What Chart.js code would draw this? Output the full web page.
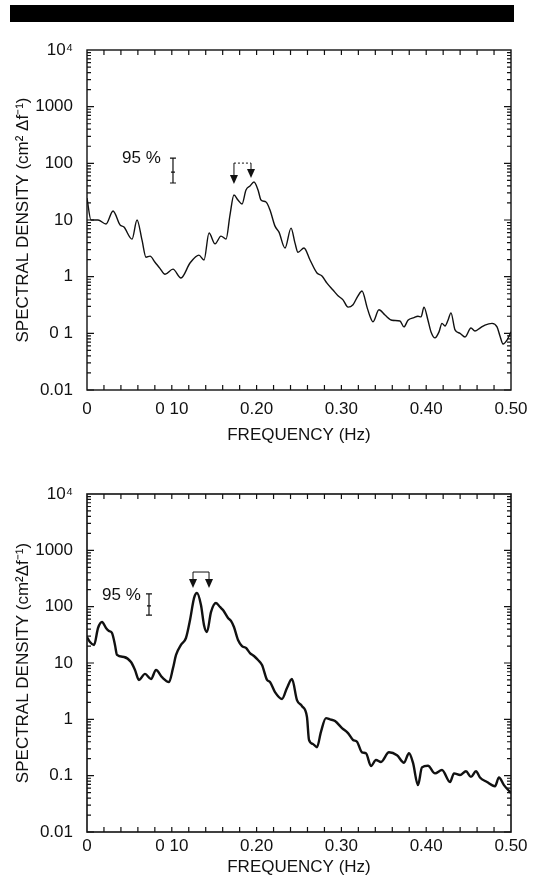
<!DOCTYPE html>
<html>
<head>
<meta charset="utf-8">
<script src="https://cdn.jsdelivr.net/npm/chart.js@4.4.1/dist/chart.umd.min.js"></script>
<style>
  body { margin: 0; background: #fff; }
  #page { position: relative; width: 544px; height: 878px; overflow: hidden; }
  #bar { position: absolute; left: 10px; top: 5px; width: 504px; height: 17px; background: #000; }
  canvas { position: absolute; left: 0; }
</style>
</head>
<body>
<div id="page">
  <div id="bar"></div>
  <canvas id="topChart" width="544" height="460" style="top:0"></canvas>
  <canvas id="bottomChart" width="544" height="418" style="top:460px"></canvas>
</div>
<script>
// upper spectrum
const topFreq = [0, 0.0047, 0.013, 0.0224, 0.0307, 0.0389, 0.0436, 0.0531, 0.059, 0.0649,
  0.0696, 0.0743, 0.0802, 0.086, 0.092, 0.1014, 0.1108, 0.1215, 0.132, 0.138,
  0.1439, 0.151, 0.158, 0.164, 0.1686, 0.1733, 0.178, 0.1828, 0.1875, 0.1922,
  0.1969, 0.2017, 0.2052, 0.2111, 0.2158, 0.2217, 0.2264, 0.2335, 0.2406, 0.2453,
  0.2488, 0.2559, 0.263, 0.2712, 0.2771, 0.283, 0.2901, 0.296, 0.3019, 0.3078,
  0.3137, 0.3196, 0.3243, 0.3302, 0.3337, 0.3373, 0.3443, 0.3514, 0.3597, 0.3691,
  0.3738, 0.3785, 0.3856, 0.3903, 0.3939, 0.3974, 0.4021, 0.4057, 0.4104, 0.4151,
  0.4186, 0.4222, 0.4257, 0.4292, 0.434, 0.4399, 0.4458, 0.4528, 0.4575, 0.4634,
  0.4693, 0.4776, 0.4835, 0.487, 0.4906, 0.4953, 0.5];
const topDensity = [24.4, 10, 10, 8.5, 14.4, 8.2, 7.5, 4.6, 10, 4.4,
  2.2, 2.3, 1.8, 1.4, 1.1, 1.36, 0.95, 1.74, 2.4, 1.97,
  5.9, 3.8, 5.2, 4.6, 12.2, 27.6, 22.5, 19.2, 33.9, 39.8,
  46.9, 33.9, 22.5, 20.8, 15, 7.8, 6.1, 3.2, 7.2, 3.9,
  2.7, 3.2, 1.97, 1.16, 1.03, 0.77, 0.58, 0.46, 0.39, 0.29,
  0.32, 0.46, 0.56, 0.29, 0.2, 0.16, 0.26, 0.21, 0.17, 0.165,
  0.13, 0.17, 0.19, 0.2, 0.195, 0.29, 0.17, 0.106, 0.083, 0.106,
  0.15, 0.135, 0.17, 0.23, 0.115, 0.1, 0.086, 0.124, 0.11, 0.124,
  0.14, 0.15, 0.13, 0.09, 0.065, 0.076, 0.106];

// lower spectrum
const bottomFreq = [0, 0.0035, 0.0083, 0.013, 0.0177, 0.0224, 0.0259, 0.0295, 0.033, 0.0354,
  0.0436, 0.0519, 0.0566, 0.0613, 0.0684, 0.0755, 0.0814, 0.0884, 0.0967, 0.1014,
  0.105, 0.1108, 0.1167, 0.1215, 0.1262, 0.1297, 0.1344, 0.138, 0.1415, 0.1462,
  0.1521, 0.1568, 0.1604, 0.1663, 0.1698, 0.1733, 0.1781, 0.1828, 0.1875, 0.1922,
  0.1969, 0.2017, 0.2064, 0.2123, 0.2158, 0.2217, 0.23, 0.2358, 0.2417, 0.2476,
  0.2535, 0.2594, 0.2618, 0.2665, 0.2712, 0.2759, 0.2818, 0.2866, 0.2925, 0.3007,
  0.3078, 0.3137, 0.3184, 0.3243, 0.329, 0.3349, 0.3408, 0.3467, 0.3561, 0.3656,
  0.3738, 0.3797, 0.3844, 0.3903, 0.395, 0.4021, 0.4104, 0.4186, 0.4281, 0.4328,
  0.4399, 0.4469, 0.4528, 0.4587, 0.4634, 0.4717, 0.4811, 0.4858, 0.4917, 0.5];
const bottomDensity = [28.9, 23.6, 20.9, 41.8, 53.4, 41.8, 37, 34, 20.9, 13.9,
  12.8, 10.4, 7.5, 5.0, 6.4, 5.2, 7.5, 5.6, 4.6, 8.1,
  13.9, 20.9, 27.8, 58, 142, 175, 107, 47, 35.5, 80,
  116, 99, 87, 63, 56, 43.5, 25.6, 20, 18.5, 15,
  13.3, 11.3, 9.2, 5.0, 4.6, 3.05, 2.3, 3.6, 5.2, 2.2,
  1.72, 1.1, 0.43, 0.365, 0.32, 0.6, 1.05, 1.0, 0.93, 0.7,
  0.57, 0.43, 0.4, 0.26, 0.25, 0.148, 0.19, 0.175, 0.26, 0.23,
  0.17, 0.25, 0.17, 0.068, 0.14, 0.15, 0.11, 0.126, 0.077, 0.11,
  0.103, 0.12, 0.095, 0.12, 0.093, 0.077, 0.065, 0.093, 0.068, 0.049];

// axis ticks and labels
const xTickValues = [0, 0.1, 0.2, 0.3, 0.4, 0.5];
const xTickLabels = ['0', '0 10', '0.20', '0.30', '0.40', '0.50'];
const yTickValues = [0.01, 0.1, 1, 10, 100, 1000, 10000];
const yTickLabelsTop = ['0.01', '0 1', '1', '10', '100', '1000', '10\u2074'];
const yTickLabelsBottom = ['0.01', '0.1', '1', '10', '100', '1000', '10\u2074'];

// annotations, in data units: [freq, value] / [freq, low, mid, high] / [freq1, freq2, bracket, tip1, tip2]
const topPctLabel = [0.0413, 124];
const topErrorBar = [0.1014, 45, 70, 124];
const topArrows = [0.1733, 0.1934, 101, 43, 55];
const bottomPctLabel = [0.0177, 161];
const bottomErrorBar = [0.0731, 71, 103, 168];
const bottomArrows = [0.125, 0.1439, 412, 214, 214];

const FONT = "'Liberation Sans', Arial, Helvetica, sans-serif";
const INK = '#111';

const framePlugin = {
    id: 'frame',
    afterDatasetsDraw(chart, args, opts) {
        const { ctx, chartArea: { left, right, top, bottom }, scales: { x, y } } = chart;
        ctx.save();
        ctx.strokeStyle = INK;
        ctx.fillStyle = INK;
        ctx.lineWidth = opts.frameWidth;
        ctx.strokeRect(left, top, right - left, bottom - top);

        // inward ticks
        ctx.lineWidth = 1.2;
        ctx.beginPath();
        for (let i = 1; i < 25; i++) {
            const px = x.getPixelForValue(i * 0.02);
            ctx.moveTo(px, bottom); ctx.lineTo(px, bottom - 5);
            ctx.moveTo(px, top); ctx.lineTo(px, top + 5);
        }
        for (let e = -2; e < 4; e++) {
            for (let m = 1; m < 10; m++) {
                const py = y.getPixelForValue(m * Math.pow(10, e));
                const len = m === 1 ? 7 : 4;
                ctx.moveTo(left, py); ctx.lineTo(left + len, py);
                ctx.moveTo(right, py); ctx.lineTo(right - len, py);
            }
        }
        ctx.stroke();

        // 95 % label and error bar
        ctx.font = '17px ' + FONT;
        ctx.textBaseline = 'middle';
        ctx.textAlign = 'left';
        ctx.fillText('95 %', x.getPixelForValue(opts.pct[0]), y.getPixelForValue(opts.pct[1]));
        const ex = x.getPixelForValue(opts.err[0]);
        const [ylo, ymid, yhi] = opts.err.slice(1).map(v => y.getPixelForValue(v));
        ctx.lineWidth = 1.2;
        ctx.beginPath();
        ctx.moveTo(ex, ylo); ctx.lineTo(ex, yhi);
        ctx.moveTo(ex - 3, ylo); ctx.lineTo(ex + 3, ylo);
        ctx.moveTo(ex - 3, yhi); ctx.lineTo(ex + 3, yhi);
        ctx.moveTo(ex - 2, ymid); ctx.lineTo(ex + 2, ymid);
        ctx.stroke();

        // bracket with two arrows
        const [f1, f2, vb, t1, t2] = opts.arrows;
        const ax1 = x.getPixelForValue(f1), ax2 = x.getPixelForValue(f2);
        const yb = y.getPixelForValue(vb);
        ctx.lineWidth = 1;
        ctx.beginPath();
        if (opts.dotted) ctx.setLineDash([2, 2]);
        ctx.moveTo(ax1, yb); ctx.lineTo(ax2, yb);
        ctx.stroke();
        ctx.setLineDash([]);
        [[ax1, t1], [ax2, t2]].forEach(([ax, tv]) => {
            const ty = y.getPixelForValue(tv);
            ctx.beginPath();
            ctx.moveTo(ax, yb); ctx.lineTo(ax, ty - 8);
            ctx.stroke();
            ctx.beginPath();
            ctx.moveTo(ax - 4, ty - 9); ctx.lineTo(ax + 4, ty - 9); ctx.lineTo(ax, ty);
            ctx.closePath();
            ctx.fill();
        });
        ctx.restore();
    }
};

function buildChart(id, cfg) {
    return new Chart(document.getElementById(id), {
        type: 'line',
        data: {
            datasets: [{
                data: cfg.freq.map((f, i) => ({ x: f, y: cfg.density[i] })),
                borderColor: INK,
                borderWidth: cfg.lineWidth,
                pointRadius: 0,
                cubicInterpolationMode: 'monotone',
                fill: false
            }]
        },
        options: {
            responsive: false,
            animation: false,
            events: [],
            layout: { padding: { left: 0, right: 33, top: cfg.padTop, bottom: 0 } },
            plugins: {
                legend: { display: false },
                tooltip: { enabled: false },
                frame: {
                    frameWidth: cfg.frameWidth,
                    pct: cfg.pct, err: cfg.err, arrows: cfg.arrows, dotted: cfg.dotted
                }
            },
            scales: {
                x: {
                    type: 'linear', min: 0, max: 0.5,
                    grid: { display: false }, border: { display: false },
                    afterBuildTicks: s => { s.ticks = xTickValues.map(v => ({ value: v })); },
                    afterFit: s => { s.height = cfg.xAxisHeight; },
                    ticks: {
                        autoSkip: false, maxRotation: 0, padding: cfg.xTickPad,
                        color: INK, font: { family: FONT, size: 17 },
                        callback: (v, i) => xTickLabels[i]
                    },
                    title: {
                        display: true, text: 'FREQUENCY (Hz)', color: INK,
                        font: { family: FONT, size: 17 },
                        padding: { top: 0, bottom: cfg.xTitlePad }
                    }
                },
                y: {
                    type: 'logarithmic', min: 0.01, max: 10000,
                    grid: { display: false }, border: { display: false },
                    afterBuildTicks: s => { s.ticks = yTickValues.map(v => ({ value: v })); },
                    afterFit: s => { s.width = 87; },
                    ticks: {
                        autoSkip: false, padding: 6,
                        color: INK, font: { family: FONT, size: 17 },
                        callback: (v, i) => cfg.yLabels[i]
                    },
                    title: {
                        display: true, text: cfg.yTitle, color: INK,
                        font: { family: FONT, size: 17 },
                        padding: { top: 13, bottom: 0 }
                    }
                }
            }
        },
        plugins: [framePlugin]
    });
}

buildChart('topChart', {
    freq: topFreq, density: topDensity, lineWidth: 1.4, frameWidth: 1.4,
    padTop: 50, xAxisHeight: 70, xTickPad: 1, xTitlePad: 14,
    yLabels: yTickLabelsTop, yTitle: 'SPECTRAL DENSITY (cm\u00b2 \u0394f\u207b\u00b9)',
    pct: topPctLabel, err: topErrorBar, arrows: topArrows, dotted: true
});

buildChart('bottomChart', {
    freq: bottomFreq, density: bottomDensity, lineWidth: 2.4, frameWidth: 1.6,
    padTop: 34, xAxisHeight: 46, xTickPad: -4, xTitlePad: 0,
    yLabels: yTickLabelsBottom, yTitle: 'SPECTRAL DENSITY (cm\u00b2\u0394f\u207b\u00b9)',
    pct: bottomPctLabel, err: bottomErrorBar, arrows: bottomArrows, dotted: false
});
</script>
</body>
</html>
